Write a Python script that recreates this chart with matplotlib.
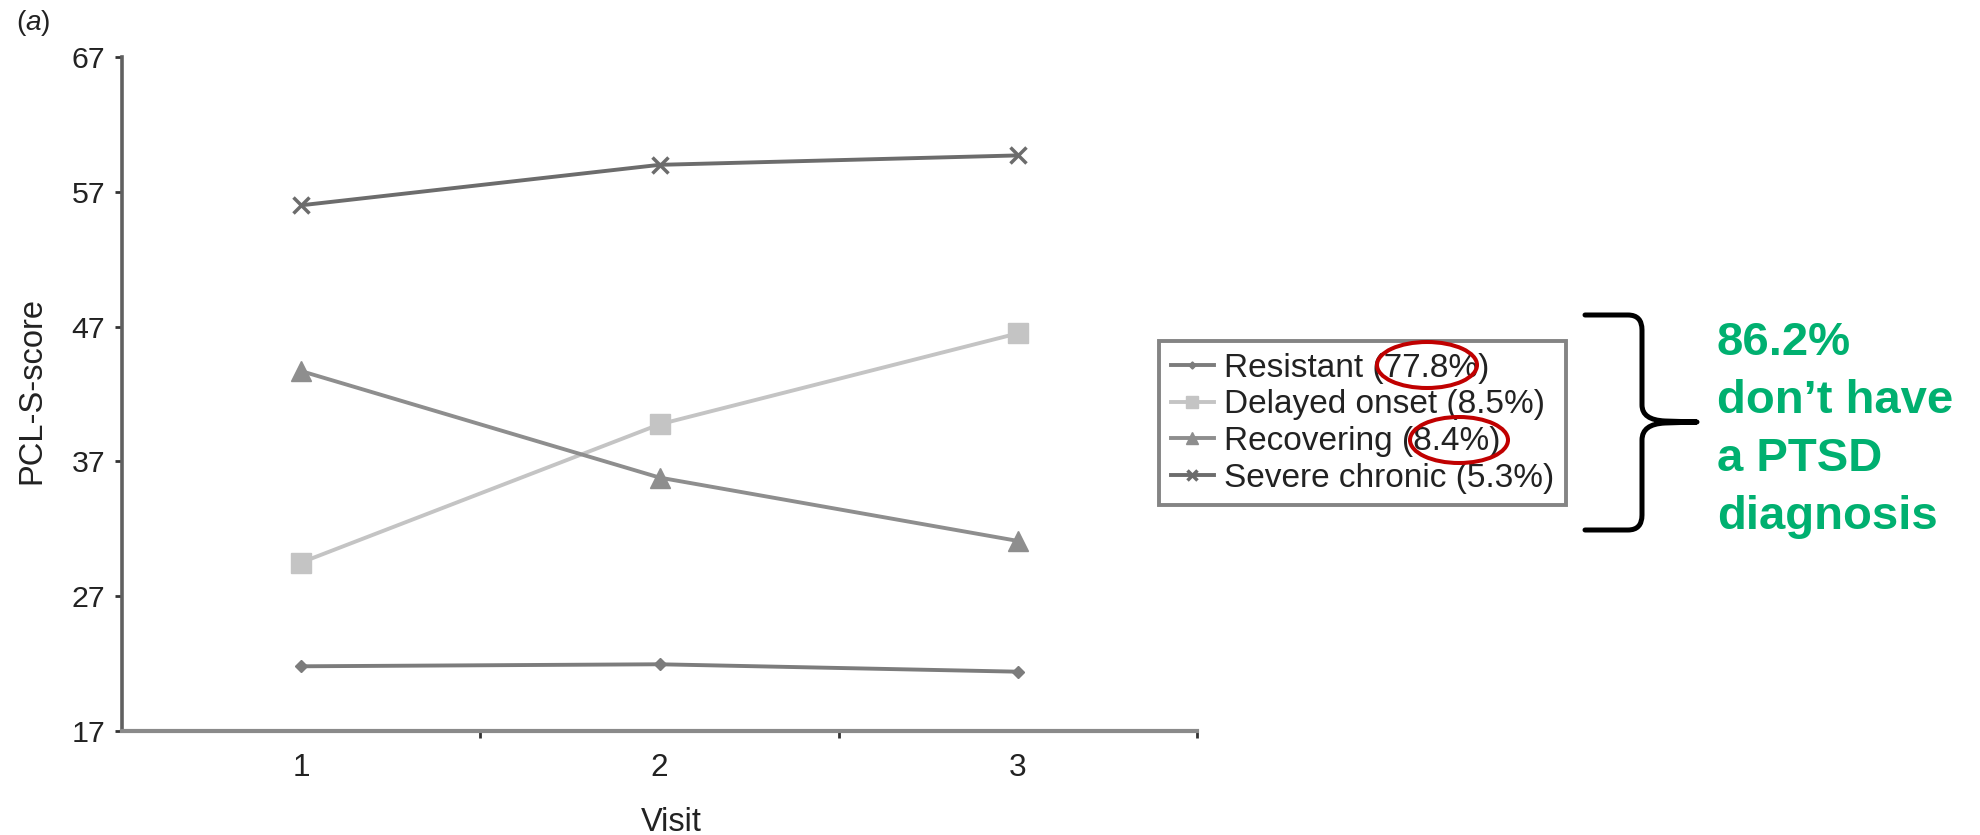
import matplotlib
matplotlib.use("Agg")
import matplotlib.pyplot as plt
from matplotlib import font_manager
from matplotlib.patches import Ellipse, PathPatch
from matplotlib.path import Path

# ---- data ----
visits = [1, 2, 3]
visit_labels = ['1', '2', '3']
resistant = [21.8, 21.95, 21.4]
delayed_onset = [29.5, 39.75, 46.5]
recovering = [43.7, 35.8, 31.1]
severe_chronic = [56.0, 59.0, 59.7]
series_names = ['Resistant (77.8%)', 'Delayed onset (8.5%)',
                'Recovering (8.4%)', 'Severe chronic (5.3%)']
y_ticks = [17, 27, 37, 47, 57, 67]
note_lines = ['86.2%', 'don\u2019t have', 'a PTSD', 'diagnosis']

# narrow font if present, otherwise regular at a reduced size
try:
    font_manager.findfont('Liberation Sans Narrow', fallback_to_default=False)
    NARROW = 'Liberation Sans Narrow'
    k = 1.0
except Exception:
    NARROW = 'Liberation Sans'
    k = 0.84

plt.rcParams['font.family'] = [NARROW, 'Liberation Sans', 'DejaVu Sans']
plt.rcParams['mathtext.fontset'] = 'custom'
plt.rcParams['mathtext.it'] = NARROW + ':italic'
plt.rcParams['mathtext.rm'] = NARROW

W, H = 1980, 835
fig = plt.figure(figsize=(W / 100, H / 100), dpi=100)

def fx(x):
    return x / W

def fy(y):
    return 1 - y / H

ax = fig.add_axes([fx(122), fy(731), fx(1197) - fx(122), fy(57) - fy(731)])

styles = [
    dict(color='#7c7c7c', marker='D', ms=6, mfc='#7c7c7c', mec='#7c7c7c'),
    dict(color='#c4c4c4', marker='s', ms=14, mfc='#c4c4c4', mec='#c4c4c4'),
    dict(color='#8e8e8e', marker='^', ms=14, mfc='#8e8e8e', mec='#8e8e8e'),
    dict(color='#6c6c6c', marker='x', ms=11, mew=2.5, mfc='#6c6c6c', mec='#6c6c6c'),
]
for vals, name, st in zip([resistant, delayed_onset, recovering, severe_chronic],
                          series_names, styles):
    ax.plot(visits, vals, lw=2.8, label=name, **st)

ax.set_xlim(0.5, 3.5)
ax.set_ylim(17, 67)
ax.set_yticks(y_ticks)
ax.set_xticks(visits)
ax.set_xticklabels(visit_labels)
ax.set_xticks([1.5, 2.5, 3.5], minor=True)
for s in ['top', 'right']:
    ax.spines[s].set_visible(False)
ax.spines['left'].set_color('#606060')
ax.spines['left'].set_linewidth(2.6)
ax.spines['bottom'].set_color('#8a8a8a')
ax.spines['bottom'].set_linewidth(3)
ax.tick_params(axis='y', direction='out', length=5, width=2, color='#333333',
               labelsize=26 * k, pad=7, labelcolor='#222222')
ax.tick_params(axis='x', which='major', length=0, labelsize=27 * k, pad=16,
               labelcolor='#222222')
ax.tick_params(axis='x', which='minor', direction='out', length=5, width=2,
               color='#333333')

ax.set_xlabel('Visit', fontsize=28 * k, color='#222222')
ax.xaxis.set_label_coords(fx(671), fy(831), transform=fig.transFigure)
ax.xaxis.label.set_va('baseline')
ax.set_ylabel('PCL-S-score', fontsize=28 * k, color='#222222')
ax.yaxis.set_label_coords(fx(32), fy(391), transform=fig.transFigure)
ax.yaxis.label.set_va('center')

fig.text(fx(16), fy(23), r'($\it{a}$)', fontsize=24 * k, color='#222222',
         ha='left', va='center')

leg = ax.legend(loc='upper left', bbox_to_anchor=(fx(1159), fy(341)),
                bbox_transform=fig.transFigure, fontsize=28.6 * k, frameon=True,
                fancybox=False, edgecolor='#666666', handlelength=1.3,
                handletextpad=0.3, labelspacing=0.0 if k == 1.0 else 0.17,
                borderpad=0.35, borderaxespad=0, markerscale=0.6)
leg.get_frame().set_linewidth(2.8)
for t in leg.get_texts():
    t.set_color('#222222')

# red ellipses
for cx, cy, w, h in [(1427, 365, 100, 46), (1459, 440, 98, 46)]:
    fig.add_artist(Ellipse((fx(cx), fy(cy)), w / W, h / H, fill=False,
                           edgecolor='#c00000', lw=2.9,
                           transform=fig.transFigure))

# brace
pts = [(1585, 315), (1628, 315), (1642, 315), (1642, 330), (1642, 405),
       (1642, 420), (1665, 421), (1697, 422),
       (1665, 423), (1642, 424), (1642, 440), (1642, 515), (1642, 530),
       (1628, 530), (1585, 530)]
codes = [Path.MOVETO, Path.LINETO, Path.CURVE3, Path.CURVE3, Path.LINETO,
         Path.CURVE3, Path.CURVE3, Path.LINETO,
         Path.LINETO, Path.CURVE3, Path.CURVE3, Path.LINETO, Path.CURVE3,
         Path.CURVE3, Path.LINETO]
path = Path([(fx(x), fy(y)) for x, y in pts], codes)
fig.add_artist(PathPatch(path, fill=False, lw=3.6, edgecolor='black',
                         transform=fig.transFigure, capstyle='round',
                         joinstyle='round'))

# green note
for i, line in enumerate(note_lines):
    fig.text(fx(1717), fy(355 + i * 58), line, fontsize=34, fontweight='bold',
             family=['Liberation Sans', 'DejaVu Sans'],
             color='#00b070', ha='left', va='baseline')

fig.savefig('out.png', dpi=100)
